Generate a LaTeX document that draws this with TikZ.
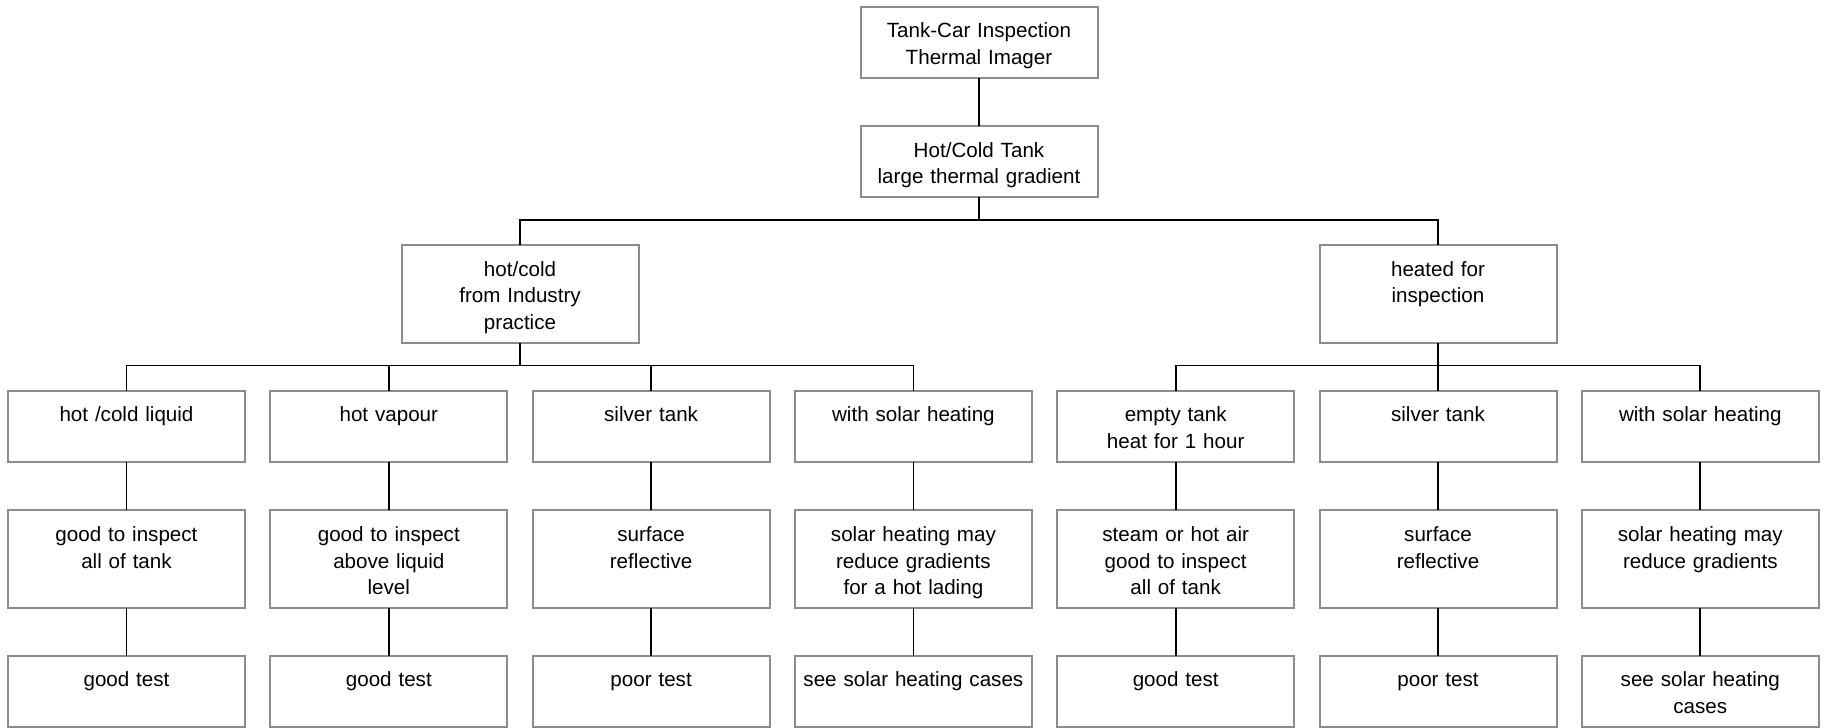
\documentclass[tikz,border=0pt]{standalone}
\usepackage{fontspec}
\setmainfont{Liberation Sans}
\usetikzlibrary{positioning,calc}

\tikzset{
	box/.style={draw=black!45, line width=1pt, anchor=north, inner xsep=0pt, inner ysep=0pt,
		outer sep=0pt, text width=118.5pt, align=center, text height=15.5pt, text depth=20pt,
		font=\fontsize{10.3}{13.3}\selectfont},
	tall/.style={text depth=33.25pt},
	link/.style={line width=0.9pt},
}

\begin{document}
\begin{tikzpicture}
		\useasboundingbox (0,0) rectangle (914pt,-364pt);
		\node[box] (top) at (489.5pt,-3.5pt) {Tank-Car Inspection\\Thermal Imager};
		\node[box, below=24pt of top] (grad) {Hot/Cold Tank\\large thermal gradient};
		%
		\node[box, tall] (ind) at (260pt,-122.5pt) {hot/cold\\from Industry\\practice};
		\node[box, tall] (heat) at (719pt,-122.5pt) {heated for\\inspection};
		%
		\node[box] (liq) at (63.25pt,-195.25pt) {hot /cold liquid};
		\node[box, right=12.65pt of liq] (vap) {hot vapour};
		\node[box, right=12.65pt of vap] (silv) {silver tank};
		\node[box, right=12.65pt of silv] (sol) {with solar heating};
		\node[box, right=12.65pt of sol] (empty) {empty tank\\heat for 1 hour};
		\node[box, right=12.65pt of empty] (silvb) {silver tank};
		\node[box, right=12.65pt of silvb] (solb) {with solar heating};
		%
		\node[box, tall, below=24.45pt of liq] (liqn) {good to inspect\\all of tank};
		\node[box, tall, below=24.45pt of vap] (vapn) {good to inspect\\above liquid\\level};
		\node[box, tall, below=24.45pt of silv] (silvn) {surface\\reflective};
		\node[box, tall, below=24.45pt of sol] (soln) {solar heating may\\reduce gradients\\for a hot lading};
		\node[box, tall, below=24.45pt of empty] (emptyn) {steam or hot air\\good to inspect\\all of tank};
		\node[box, tall, below=24.45pt of silvb] (silvbn) {surface\\reflective};
		\node[box, tall, below=24.45pt of solb] (solbn) {solar heating may\\reduce gradients};
		%
		\node[box, below=23.8pt of liqn] (liqt) {good test};
		\node[box, below=23.8pt of vapn] (vapt) {good test};
		\node[box, below=23.8pt of silvn] (silvt) {poor test};
		\node[box, below=23.8pt of soln] (solt) {see solar heating cases};
		\node[box, below=23.8pt of emptyn] (emptyt) {good test};
		\node[box, below=23.8pt of silvbn] (silvbt) {poor test};
		\node[box, below=23.8pt of solbn] (solbt) {see solar heating\\cases};
		%
		\draw[link] (top) -- (grad);
		\draw[link] (grad.south) -- ++(0,-11.5pt) coordinate (b1) -| (ind.north);
		\draw[link] (b1) -| (heat.north);
		\draw[link] (ind.south) -- ++(0,-11.5pt) coordinate (b2) -| (liq.north);
		\draw[link] (b2) -| (sol.north);
		\draw[link] (b2 -| vap.north) -- (vap.north);
		\draw[link] (b2 -| silv.north) -- (silv.north);
		\draw[link] (heat.south) -- ++(0,-11.5pt) coordinate (b3) -| (empty.north);
		\draw[link] (b3) -| (solb.north);
		\draw[link] (b3 -| silvb.north) -- (silvb.north);
		\foreach \a in {liq,vap,silv,sol,empty,silvb,solb}
			\draw[link] (\a) -- (\a n) (\a n) -- (\a t);
\end{tikzpicture}
\end{document}
